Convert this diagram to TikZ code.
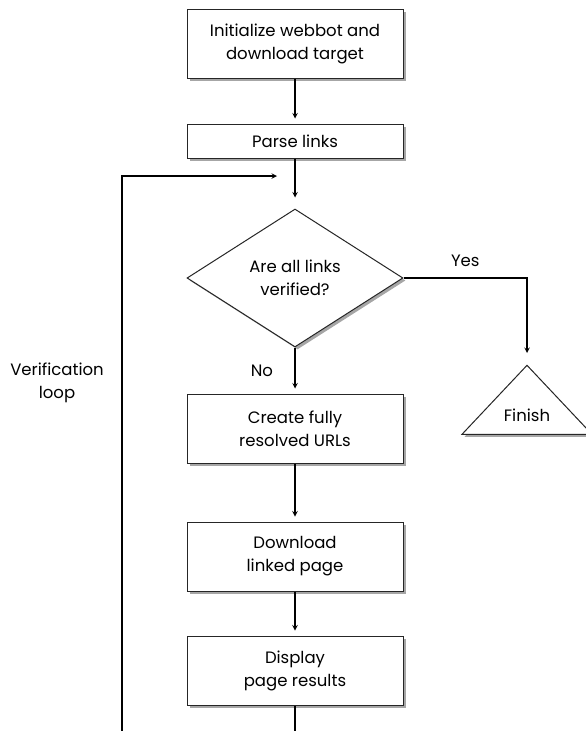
\documentclass[tikz,border=0pt]{standalone}
\usepackage{fontspec}
\setmainfont{Poppins}
\usetikzlibrary{shapes.geometric, arrows, positioning, shadows}

\begin{document}
\begin{tikzpicture}[
        x=1pt, y=-1pt,
        node distance=45pt,
        every node/.style={font=\fontsize{16.5}{23}\selectfont},
        stepbox/.style={rectangle, minimum width=216pt, minimum height=69pt, align=center, draw=black!85, line width=1pt, fill=white,
            drop shadow={shadow xshift=2.5pt, shadow yshift=-2.5pt, fill=black, opacity=.35}},
        decision/.style={diamond, minimum width=216pt, minimum height=138pt, inner sep=0pt, align=center, draw=black!85, line width=1pt, fill=white,
            drop shadow={shadow xshift=2.5pt, shadow yshift=-2.5pt, fill=black, opacity=.35}},
        endtri/.style={isosceles triangle, shape border rotate=90, isosceles triangle stretches, minimum width=130pt, minimum height=69pt, inner sep=0pt,
            draw=black!85, line width=1pt, fill=white,
            drop shadow={shadow xshift=2.5pt, shadow yshift=-2.5pt, fill=black, opacity=.35}},
        arrow/.style={line width=1.4pt, ->, >=stealth, shorten >=5pt},
        plain/.style={line width=1.4pt}
    ]

        \useasboundingbox (0,0) rectangle (586,731);

        % Steps
        \node[stepbox] (init) at (295,43.5) {Initialize webbot and\\download target};
        \node[stepbox, minimum height=34pt, below=of init] (parse) {Parse links};
        \node[decision, below=50pt of parse] (verify) {Are all links\\verified?};
        \node[stepbox, below=46pt of verify] (resolve) {Create fully\\resolved URLs};
        \node[stepbox, below=58pt of resolve] (download) {Download\\linked page};
        \node[stepbox, below=44pt of download] (display) {Display\\page results};
        \node[endtri, anchor=apex] (finish) at (527,364) {Finish};
        \node[align=center] (looplabel) at (57,383) {Verification\\loop};

        % Loop ends
        \coordinate (tail) at (295,733);
        \coordinate (loopfoot) at (122,733);
        \coordinate (join) at (295,176);

        % Connections
        \draw[arrow] (init) -- (parse);
        \draw[arrow, shorten >=11pt] (parse) -- (verify);
        \draw[arrow, shorten >=11pt] (verify.east) -| node[pos=.25, above=7pt] {Yes} (finish.apex);
        \draw[arrow] (verify.south) -- node[left=18pt] {No} (resolve);
        \draw[arrow] (resolve) -- (download);
        \draw[arrow] (download) -- (display);
        \draw[plain] (display) -- (tail);
        \draw[arrow, shorten >=18pt] (loopfoot) |- (join);

    \end{tikzpicture}
\end{document}
